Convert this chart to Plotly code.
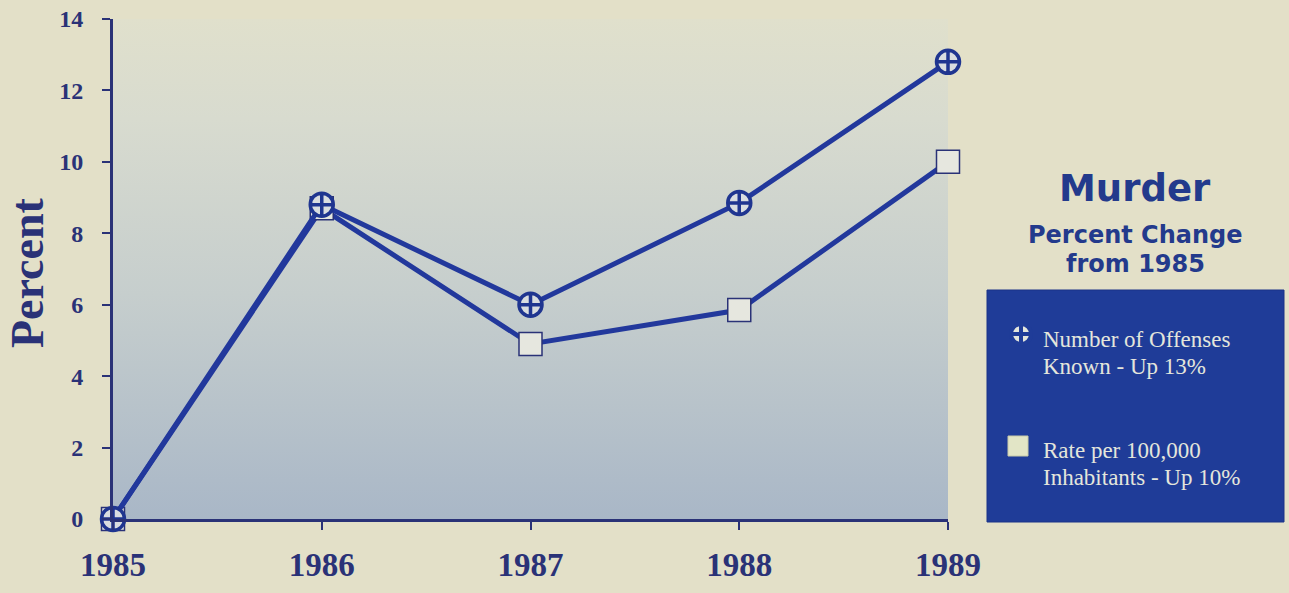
import plotly.graph_objs as go

W, H = 1289, 593

years = [1985, 1986, 1987, 1988, 1989]
offenses = [0, 8.8, 6.0, 8.85, 12.8]
rate = [0, 8.7, 4.9, 5.85, 10.0]
y_ticks = [0, 2, 4, 6, 8, 10, 12, 14]

NAVY = '#2a3277'
LINE = '#22389c'
PAPER = '#e3e0c8'
BOX = '#1f3c98'
PALE = '#e4e6dc'

# plot area in pixels
X0, X1 = 113, 948
Y0, Y1 = 19, 519


def px(x):
    return x / W


def py(y):
    return 1 - y / H


fig = go.Figure()

# gradient backdrop for plot area
fig.add_trace(go.Scatter(
    x=[years[0], years[-1], years[-1], years[0], years[0]],
    y=[y_ticks[0], y_ticks[0], y_ticks[-1], y_ticks[-1], y_ticks[0]],
    mode='lines', line=dict(width=0), fill='toself',
    fillgradient=dict(type='vertical',
                      colorscale=[[0, '#a9b7c7'], [0.45, '#c6cecd'],
                                  [0.8, '#d8dbcf'], [1, '#e0e0cc']]),
    hoverinfo='skip', showlegend=False,
))

fig.add_trace(go.Scatter(
    x=years, y=rate, mode='lines+markers', name='Rate',
    line=dict(color=LINE, width=5),
    marker=dict(symbol='square', size=23, color='#e6e7df',
                line=dict(color=NAVY, width=1.5)),
    cliponaxis=False, showlegend=False,
))
fig.add_trace(go.Scatter(
    x=years, y=offenses, mode='lines+markers', name='Offenses',
    line=dict(color=LINE, width=5),
    marker=dict(symbol='circle-cross', size=23, color='#d9dde0',
                line=dict(color='#1f3590', width=3.5)),
    cliponaxis=False, showlegend=False,
))

# legend icons on an overlay axis in pixel space
fig.add_trace(go.Scatter(
    x=[1021], y=[H - 334], mode='markers', xaxis='x2', yaxis='y2',
    marker=dict(symbol='circle-cross', size=20, color=PALE,
                line=dict(color=BOX, width=4)),
    hoverinfo='skip', showlegend=False,
))
fig.add_trace(go.Scatter(
    x=[1018], y=[H - 446], mode='markers', xaxis='x2', yaxis='y2',
    marker=dict(symbol='square', size=20, color='#e2e5c6',
                line=dict(color='#c8caa8', width=1)),
    hoverinfo='skip', showlegend=False,
))

font_serif = 'Liberation Serif, Times New Roman, serif'
font_head = 'DejaVu Sans, Verdana, sans-serif'


def note(text, x, y, size, family, color, weight='normal', xanchor='center', angle=0):
    return dict(text=text, x=px(x), y=py(y), xref='paper', yref='paper',
                showarrow=False, xanchor=xanchor, yanchor='middle',
                textangle=angle,
                font=dict(family=family, size=size, color=color, weight=weight))


fig.update_layout(
    width=W, height=H,
    template='none',
    margin=dict(l=0, r=0, t=0, b=0),
    paper_bgcolor=PAPER,
    plot_bgcolor='rgba(0,0,0,0)',
    xaxis=dict(domain=[px(X0), px(X1)], range=[1985, 1989],
               tickvals=years, ticktext=[str(y) for y in years],
               showgrid=False, zeroline=False,
               showline=True, linecolor=NAVY, linewidth=3,
               ticks='outside', ticklen=8, tickwidth=2, tickcolor=NAVY,
               ticklabelstandoff=6,
               tickfont=dict(family=font_serif, size=33, color=NAVY, weight='bold'),
               automargin=False, fixedrange=True),
    yaxis=dict(domain=[py(Y1), py(Y0)], range=[0, 14],
               tickvals=y_ticks,
               showgrid=False, zeroline=False,
               showline=True, linecolor=NAVY, linewidth=3,
               ticks='outside', ticklen=8, tickwidth=2, tickcolor=NAVY,
               ticklabelstandoff=14,
               tickfont=dict(family=font_serif, size=24, color=NAVY, weight='bold'),
               automargin=False, fixedrange=True),
    xaxis2=dict(domain=[0, 1], range=[0, W], visible=False, fixedrange=True),
    yaxis2=dict(domain=[0, 1], range=[0, H], visible=False, fixedrange=True,
                anchor='x2'),
    shapes=[dict(type='rect', xref='paper', yref='paper', layer='below',
                 x0=px(987), x1=px(1284), y0=py(522), y1=py(290),
                 fillcolor=BOX, line=dict(color='#1a3388', width=1))],
    annotations=[
        note('Percent', 28, 273, 46, font_serif, NAVY, 'bold', angle=-90),
        note('Murder', 1135, 188, 37, font_head, '#233a8c', 'bold'),
        note('Percent Change', 1135, 235, 24, font_head, '#233a8c', 'bold'),
        note('from 1985', 1135, 264, 24, font_head, '#233a8c', 'bold'),
        note('Number of Offenses', 1041, 339, 23, font_serif, PALE, xanchor='left'),
        note('Known - Up 13%', 1041, 366, 23, font_serif, PALE, xanchor='left'),
        note('Rate per 100,000', 1041, 450, 23, font_serif, PALE, xanchor='left'),
        note('Inhabitants - Up 10%', 1041, 477, 23, font_serif, PALE, xanchor='left'),
    ],
)

fig.write_html("out.html",
               config={'displayModeBar': False},
               post_script="document.body.style.margin='0';"
                           "document.body.style.overflow='hidden';")
